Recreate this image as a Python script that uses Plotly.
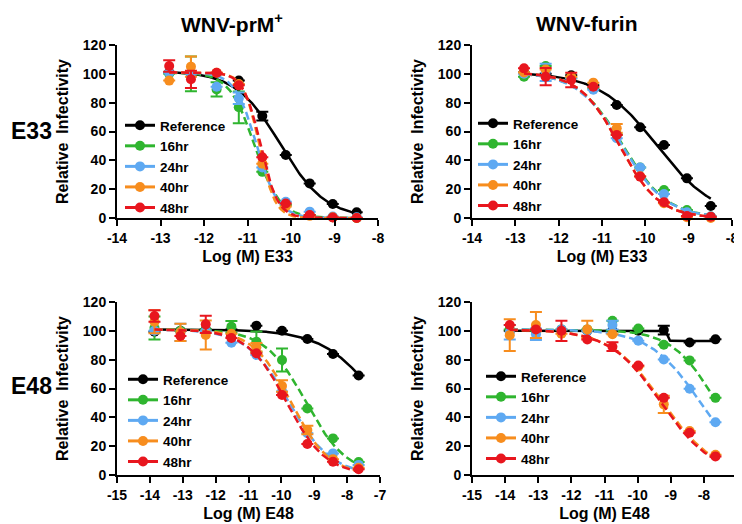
import numpy as np
import plotly.graph_objects as go

# dose (log M) for each compound
dose_e33 = [-12.8, -12.3, -11.71, -11.2, -10.66, -10.12, -9.57, -9.04, -8.49]
dose_e48 = [-13.86, -13.07, -12.30, -11.52, -10.76, -9.98, -9.21, -8.43, -7.65]

series = ["Reference", "16hr", "24hr", "40hr", "48hr"]
colors = ["#000000", "#2fb52f", "#5ea9f2", "#f78d1e", "#e8161e"]

# WNV-prM+ / E33
prm_e33 = {
    "Reference": [101, 100, 100, 95.3, 70.7, 43.7, 24, 9.7, 4],
    "16hr": [100, 100, 89.2, 76.8, 32, 9, 2, 0.5, 0],
    "24hr": [100.8, 100, 91, 83, 35, 11.3, 4.4, 1, 0.5],
    "40hr": [95.3, 105, 100.8, 93, 37.7, 8, 1.5, 0.5, 0],
    "48hr": [105.4, 96.2, 100.8, 92, 42.1, 10, 2, 0.3, 0],
}
prm_e33_err = {
    "Reference": [None, None, None, None, 3, None, None, None, None],
    "16hr": [None, 12, 5, 11, None, None, None, None, None],
    "24hr": [None, None, None, 4, None, None, None, None, None],
    "40hr": [None, 7, None, None, None, None, None, None, None],
    "48hr": [4, 6, None, None, None, None, None, None, None],
}
# fitted curve parameters: top, bottom, logEC50, hill slope
prm_e33_fit = {
    "Reference": [102, 0, -10.24, 0.84],
    "16hr": [101, 0, -10.84, 1.5],
    "24hr": [101, 0, -10.79, 1.75],
    "40hr": [101, 0, -10.73, 2.4],
    "48hr": [101, 0, -10.70, 2.2],
}

# WNV-furin / E33
fur_e33 = {
    "Reference": [101, 100, 99, 92, 78.4, 62.9, 50.6, 27.5, 8.3],
    "16hr": [98, 105.4, 97, 90, 58, 35, 19.4, 5.5, 1],
    "24hr": [100, 101, 97, 89, 55.3, 35.1, 16.6, 4, 1],
    "40hr": [101, 103, 98, 93.9, 62.2, 29, 10.2, 0.5, 0],
    "48hr": [103.8, 98, 95.7, 91, 57.6, 28.7, 11, 1.4, 0.9],
}
fur_e33_err = {
    "Reference": [None] * 9,
    "16hr": [None] * 9,
    "24hr": [None, 6, None, None, None, None, None, None, None],
    "40hr": [None, None, None, None, 3, None, None, None, None],
    "48hr": [None, 6, 5, None, None, None, None, None, None],
}
fur_e33_fit = {
    "Reference": [101, 0, -9.74, 0.65],
    "16hr": [101, 0, -10.52, 0.85],
    "24hr": [101, 0, -10.54, 0.85],
    "40hr": [101, 0, -10.6, 0.95],
    "48hr": [101, 0, -10.6, 0.95],
}

# WNV-prM+ / E48
prm_e48 = {
    "Reference": [99.4, 100, 101, 101, 103.6, 100.1, 94.3, 83.9, 69],
    "16hr": [102, 100, 101, 102.9, 92.5, 79.8, 46.2, 25.4, 9],
    "24hr": [100, 99, 100, 91.8, 83.2, 58, 29, 15, 7],
    "40hr": [106.3, 99, 97.1, 98, 88.6, 61.7, 31.2, 11, 5],
    "48hr": [110.3, 96.4, 104.5, 95, 84.4, 55.5, 21.5, 9.2, 4],
}
prm_e48_err = {
    "Reference": [None] * 9,
    "16hr": [8, None, None, 4, 7, 8, None, None, None],
    "24hr": [None, 6, None, None, None, None, None, None, None],
    "40hr": [8, 6, 10, None, 3, 4, 3, None, None],
    "48hr": [4, None, 6, None, None, None, None, None, None],
}
prm_e48_fit = {
    "Reference": [101, 0, -6.98, 0.51],
    "16hr": [101, 0, -9.25, 0.7],
    "24hr": [101, 0, -9.77, 0.68],
    "40hr": [101, 0, -9.71, 0.75],
    "48hr": [101, 0, -9.84, 0.73],
}

# WNV-furin / E48
fur_e48 = {
    "Reference": [100, 100, 100, 100, 100, 100, 100.5, 91.9, 94.1],
    "16hr": [101, 100, 101, 101, 107, 101.6, 90.3, 79.5, 53.5],
    "24hr": [99, 97.7, 101, 100, 104, 93.2, 80.1, 59.8, 36.6],
    "40hr": [97, 104, 98, 101, 97.7, 75.2, 49, 30.5, 14],
    "48hr": [104, 101, 100, 94, 89, 76, 53.5, 29.3, 12.9],
}
fur_e48_err = {
    "Reference": [None, None, None, None, None, None, 3, None, None],
    "16hr": [None] * 9,
    "24hr": [5, 4, None, None, 3, None, None, None, None],
    "40hr": [11, 9, None, 6, None, None, 6, None, None],
    "48hr": [None, None, 7, None, 3, None, None, None, None],
}
fur_e48_fit = {
    "Reference": [100, 93, -9.1, 20],
    "16hr": [101, 0, -7.62, 0.65],
    "24hr": [101, 0, -8.11, 0.57],
    "40hr": [101, 0, -9.25, 0.55],
    "48hr": [101, 0, -9.3, 0.56],
}

ticks_e33 = [-14, -13, -12, -11, -10, -9, -8]
ticks_e48 = [-15, -14, -13, -12, -11, -10, -9, -8, -7]
yticks = [0, 20, 40, 60, 80, 100, 120]

FONT = "Liberation Sans, Arial, sans-serif"
# the page body has an 8px margin, so the figure is drawn 8px smaller
OFF = 8
W, H = 742 - OFF, 524 - OFF


def curve(x0, x1, p):
    top, bottom, ec50, hill = p
    xs = np.linspace(x0, x1, 200)
    return xs, bottom + (top - bottom) / (1 + 10 ** (hill * (xs - ec50)))


panels = [
    ("x", "y", "legend", dose_e33, prm_e33, prm_e33_err, prm_e33_fit),
    ("x2", "y2", "legend2", dose_e33, fur_e33, fur_e33_err, fur_e33_fit),
    ("x3", "y3", "legend3", dose_e48, prm_e48, prm_e48_err, prm_e48_fit),
    ("x4", "y4", "legend4", dose_e48, fur_e48, fur_e48_err, fur_e48_fit),
]

fig = go.Figure()
for xa, ya, lg, dose, vals, errs, fits in panels:
    for name, col in zip(series, colors):
        dash = "solid" if name == "Reference" else "8px,4px"
        cx, cy = curve(dose[0], dose[-1], fits[name])
        fig.add_trace(go.Scatter(x=cx, y=cy, mode="lines", xaxis=xa, yaxis=ya,
                                 line=dict(color=col, width=2.5, dash=dash),
                                 showlegend=False, cliponaxis=False, hoverinfo="skip"))
        fig.add_trace(go.Scatter(x=dose, y=vals[name], mode="markers", xaxis=xa, yaxis=ya,
                                 marker=dict(color=col, size=10),
                                 error_y=dict(type="data", array=errs[name], color=col,
                                              thickness=2, width=6),
                                 showlegend=False, cliponaxis=False, name=name))
        # legend entry
        fig.add_trace(go.Scatter(x=[None], y=[None], mode="lines+markers", xaxis=xa, yaxis=ya,
                                 line=dict(color=col, width=3), marker=dict(color=col, size=10),
                                 name=name, legend=lg))


def px_x(p):
    return (p - OFF) / W


def px_y(p):
    return 1 - (p - OFF) / H


axis_common = dict(showline=True, linecolor="black", linewidth=2, ticks="outside",
                   ticklen=6, tickwidth=2, tickcolor="black", showgrid=False, zeroline=False,
                   automargin=False,
                   tickfont=dict(family=FONT, size=14, color="black", weight="bold"))
xt_font = dict(family=FONT, size=16, color="black", weight="bold")


def xaxis(dom, rng, ticks, anchor, title):
    return dict(axis_common, domain=dom, range=rng, anchor=anchor,
                tickvals=ticks, ticktext=[str(t) for t in ticks],
                title=dict(text=title, font=xt_font, standoff=6))


def yaxis(dom, anchor):
    return dict(axis_common, domain=dom, range=[0, 120], anchor=anchor,
                tickvals=yticks, ticktext=[str(t) for t in yticks],
                title=dict(text="Relative  Infectivity", font=xt_font, standoff=10))


left = [px_x(117), px_x(378)]
right = [px_x(472), px_x(732)]
left48 = [px_x(117), px_x(380)]
right48 = [px_x(472), px_x(737)]
top = [px_y(218), px_y(45)]
bot = [px_y(475), px_y(302)]

legend_common = dict(font=dict(family=FONT, size=13.5, color="black", weight="bold"),
                     bgcolor="rgba(0,0,0,0)", xanchor="left", yanchor="top",
                     tracegroupgap=0, itemwidth=30)

title_font = dict(family=FONT, size=21, color="black", weight="bold")
row_font = dict(family=FONT, size=23, color="black", weight="bold")

fig.update_layout(
    width=W, height=H,
    margin=dict(l=0, r=0, t=0, b=0, autoexpand=False),
    paper_bgcolor="white", plot_bgcolor="white",
    xaxis=xaxis(left, [-14, -8], ticks_e33, "y", "Log (M) E33"),
    yaxis=yaxis(top, "x"),
    xaxis2=xaxis(right, [-14, -8], ticks_e33, "y2", "Log (M) E33"),
    yaxis2=yaxis(top, "x2"),
    xaxis3=xaxis(left48, [-15, -7], ticks_e48, "y3", "Log (M) E48"),
    yaxis3=yaxis(bot, "x3"),
    xaxis4=xaxis(right48, [-15, -7], ticks_e48, "y4", "Log (M) E48"),
    yaxis4=yaxis(bot, "x4"),
    legend=dict(legend_common, x=px_x(120), y=px_y(110)),
    legend2=dict(legend_common, x=px_x(473), y=px_y(108)),
    legend3=dict(legend_common, x=px_x(123), y=px_y(364)),
    legend4=dict(legend_common, x=px_x(481), y=px_y(361)),
    showlegend=True,
    annotations=[
        dict(text="WNV-prM<sup>+</sup>", x=px_x(232), y=px_y(23), xref="paper", yref="paper",
             xanchor="center", yanchor="middle", showarrow=False, font=title_font),
        dict(text="WNV-furin", x=px_x(586), y=px_y(23), xref="paper", yref="paper",
             xanchor="center", yanchor="middle", showarrow=False, font=title_font),
        dict(text="E33", x=px_x(31), y=px_y(131), xref="paper", yref="paper",
             xanchor="center", yanchor="middle", showarrow=False, font=row_font),
        dict(text="E48", x=px_x(31), y=px_y(386), xref="paper", yref="paper",
             xanchor="center", yanchor="middle", showarrow=False, font=row_font),
    ],
)

fig.write_html("out.html")
